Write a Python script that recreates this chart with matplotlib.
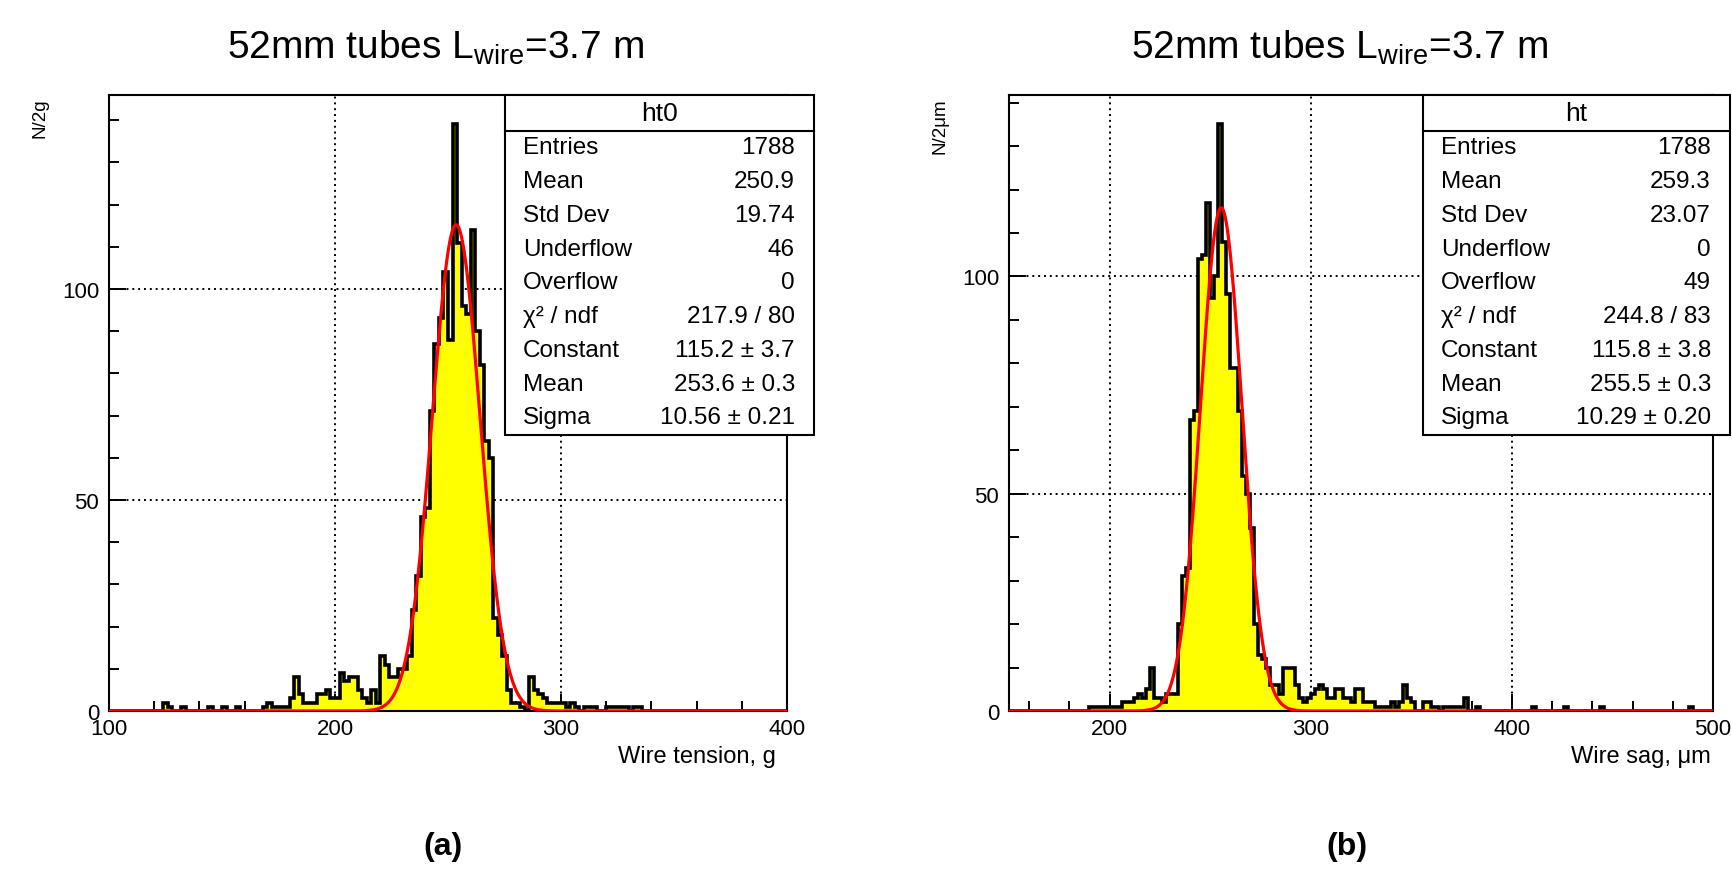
import numpy as np
import matplotlib.pyplot as plt
from matplotlib.patches import Rectangle
from matplotlib.lines import Line2D
from matplotlib.ticker import MultipleLocator

plt.rcParams['font.family'] = ['Liberation Sans', 'DejaVu Sans']
plt.rcParams['mathtext.fontset'] = 'custom'
plt.rcParams['mathtext.rm'] = 'Liberation Sans'

# (a) wire tension, 2 g bins between 100 and 400: lower bin edge -> entries
tension_lo = [124, 126, 132, 144, 150, 156, 168, 170, 172, 174, 176, 178, 180, 182, 184,
              186, 188, 190, 192, 194, 196, 198, 200, 202, 204, 206, 208, 210, 212, 214,
              216, 218, 220, 222, 224, 226, 228, 230, 232, 234, 236, 238, 240, 242, 244,
              246, 248, 250, 252, 254, 256, 258, 260, 262, 264, 266, 268, 270, 272, 274,
              276, 278, 280, 282, 286, 288, 290, 292, 294, 296, 298, 300, 302, 304, 306,
              310, 312, 314, 320, 322, 324, 326, 328, 332, 334]
tension_n = [2, 1, 1, 1, 1, 1, 1, 2, 1, 1, 1, 1, 3, 8, 4,
             2, 2, 2, 4, 4, 5, 3, 3, 9, 7, 8, 8, 5, 3, 2,
             5, 2, 13, 11, 8, 8, 10, 10, 13, 24, 32, 46, 48, 71, 87,
             93, 104, 88, 139, 111, 96, 94, 114, 90, 82, 64, 60, 22, 18, 13,
             5, 2, 2, 1, 8, 5, 4, 3, 2, 2, 2, 2, 1, 2, 1,
             1, 1, 1, 1, 1, 1, 1, 1, 1, 1]

# (b) wire sag, 2 um bins between 150 and 500
sag_lo = [190, 192, 194, 196, 198, 200, 202, 204, 206, 208, 210, 212, 214, 216, 218,
          220, 222, 224, 226, 228, 230, 232, 234, 236, 238, 240, 242, 244, 246, 248,
          250, 252, 254, 256, 258, 260, 262, 264, 266, 268, 270, 272, 274, 276, 278,
          280, 282, 284, 286, 288, 290, 292, 294, 296, 298, 300, 302, 304, 306, 308,
          310, 312, 314, 316, 318, 320, 322, 324, 326, 328, 330, 332, 334, 336, 338,
          340, 342, 344, 346, 348, 350, 356, 358, 360, 362, 366, 368, 370, 372, 374,
          376, 382, 410, 426, 444, 488]
sag_n = [1, 1, 1, 1, 1, 1, 1, 1, 2, 2, 2, 3, 4, 3, 5,
         10, 3, 3, 2, 4, 4, 4, 20, 31, 33, 67, 69, 104, 105, 117,
         95, 100, 135, 108, 96, 79, 79, 69, 54, 50, 42, 20, 13, 12, 10,
         6, 6, 4, 10, 10, 10, 6, 3, 2, 3, 4, 5, 6, 5, 3,
         3, 5, 5, 3, 3, 2, 5, 5, 2, 2, 2, 1, 1, 1, 1,
         2, 1, 2, 6, 3, 2, 2, 2, 1, 1, 1, 1, 1, 1, 1,
         3, 1, 1, 1, 1, 1]

# gaussian fit results (constant, mean, sigma)
tension_fit = (115.2, 253.6, 10.56)
sag_fit = (115.8, 255.5, 10.29)

stat_labels = ['Entries', 'Mean', 'Std Dev', 'Underflow', 'Overflow',
               'χ² / ndf', 'Constant', 'Mean', 'Sigma']
tension_stats = ['1788', '250.9', '19.74', '46', '0', '217.9 / 80',
                 '115.2 ± 3.7', '253.6 ± 0.3', '10.56 ± 0.21']
sag_stats = ['1788', '259.3', '23.07', '0', '49', '244.8 / 83',
             '115.8 ± 3.8', '255.5 ± 0.3', '10.29 ± 0.20']

W, H = 1733, 870
fig = plt.figure(figsize=(W / 100, H / 100), dpi=100)


def fx(px):
    return px / W


def fy(py):
    return 1 - py / H


def panel(rect, lo, n, xlim, xmajor, fit, xlabel, xlab_right, ylabel, name, vals, box, tag, tag_x):
    x0, y0, x1, y1 = rect
    ax = fig.add_axes([fx(x0), fy(y1), fx(x1) - fx(x0), fy(y0) - fy(y1)])
    edges = np.arange(xlim[0], xlim[1] + 1, 2)
    counts = np.zeros(len(edges) - 1)
    counts[(np.array(lo) - xlim[0]) // 2] = n
    ax.stairs(counts, edges, fill=True, color='#ffff00', lw=0, zorder=2)
    ax.stairs(counts, edges, color='black', lw=2.6, zorder=3)
    xs = np.linspace(xlim[0], xlim[1], 2000)
    c, m, s = fit
    ax.plot(xs, c * np.exp(-0.5 * ((xs - m) / s) ** 2), color='red', lw=2.3, zorder=4)
    ax.set_xlim(xlim)
    ax.set_ylim(0, max(n) * 1.05)
    ax.set_xticks(xmajor)
    ax.xaxis.set_minor_locator(MultipleLocator(20))
    ax.yaxis.set_major_locator(MultipleLocator(50))
    ax.yaxis.set_minor_locator(MultipleLocator(10))
    ax.tick_params(which='both', direction='in', top=False, right=False, width=1.4, labelsize=16)
    ax.tick_params(which='major', length=12)
    ax.tick_params(which='minor', length=7)
    ax.tick_params(axis='x', pad=5)
    ax.tick_params(axis='y', pad=7)
    ax.grid(which='major', color='black', lw=1.4, linestyle=(0, (1, 2.0)))
    for sp in ax.spines.values():
        sp.set_linewidth(1.5)

    fig.text(fx(tag_x - 7), fy(48), '52mm tubes L$_\\mathregular{wire}$=3.7 m',
             ha='center', va='center', fontsize=28)
    fig.text(fx(x0 - 69), fy(98), ylabel, rotation=90, ha='center', va='top', fontsize=13.5)
    fig.text(fx(xlab_right), fy(757), xlabel, ha='right', va='center', fontsize=17)
    fig.text(fx(tag_x), fy(847), tag, ha='center', va='center', fontsize=23, weight='bold')

    # statistics box
    bx0, by0, bx1, by1 = box
    fig.add_artist(Rectangle((fx(bx0), fy(by1)), fx(bx1) - fx(bx0), fy(by0) - fy(by1),
                             transform=fig.transFigure, fc='white', ec='black', lw=1.5, zorder=5))
    fig.add_artist(Line2D([fx(bx0), fx(bx1)], [fy(131.5), fy(131.5)],
                          transform=fig.transFigure, color='black', lw=1.5, zorder=6))
    fig.text(fx((bx0 + bx1) / 2), fy(114), name, ha='center', va='center', fontsize=19, zorder=7)
    for i, (lab, val) in enumerate(zip(stat_labels, vals)):
        yy = fy(148.3 + 33.75 * i)
        fig.text(fx(bx0 + 18), yy, lab, ha='left', va='center', fontsize=17.5, zorder=7)
        fig.text(fx(bx1 - 19), yy, val, ha='right', va='center', fontsize=17.5, zorder=7)
    return ax


panel((109, 96, 787, 712), tension_lo, tension_n, (100, 400), [100, 200, 300, 400],
      tension_fit, 'Wire tension, g', 776, 'N/2g', 'ht0', tension_stats,
      (505, 96, 814, 436), '(a)', 443)
panel((1009, 96, 1713, 712), sag_lo, sag_n, (150, 500), [200, 300, 400, 500],
      sag_fit, 'Wire sag, μm', 1711, 'N/2μm', 'ht', sag_stats,
      (1423, 96, 1730, 436), '(b)', 1347)

fig.savefig('out.png', dpi=100)
